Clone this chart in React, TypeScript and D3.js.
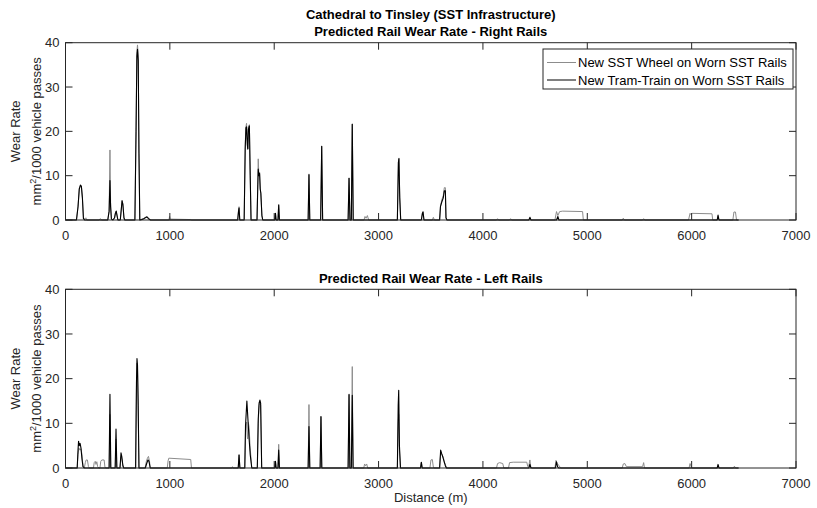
import React from "react";
import * as d3 from "d3";

type P = [number, number];

const mainTitle = "Cathedral to Tinsley (SST Infrastructure)";
const panelTitles = ["Predicted Rail Wear Rate - Right Rails", "Predicted Rail Wear Rate - Left Rails"];
const seriesNames = ["New SST Wheel on Worn SST Rails", "New Tram-Train on Worn SST Rails"];
const xTicks = [0, 1000, 2000, 3000, 4000, 5000, 6000, 7000];
const yTicks = [0, 10, 20, 30, 40];

const rightSST: P[] = [
  [0,0],[105,0],[120,3],[132,7],[143,8],[152,7.8],[162,5],[172,0.4],[185,0.2],[195,0.5],[205,0],
  [320,0],[335,0.3],[345,0],
  [405,0],[418,2],[426,15.8],[432,4],[440,0.3],[455,0],[470,0.5],[478,1.5],[486,2],[494,1],[502,0],[525,0],[533,2],[542,4.5],[550,3.5],[560,0.5],[568,0],
  [665,0],[676,20],[684,38],[690,39.5],[697,37],[704,15],[712,0],[745,0.3],[765,0.6],[780,0.8],[795,0.4],[815,0],
  [990,0],[998,0.8],[1003,0.2],[1200,0.1],[1210,0],
  [1650,0],[1658,2],[1663,3],[1670,0],
  [1712,0],[1722,17],[1729,21],[1735,21.8],[1742,18],[1747,16],[1753,21],[1762,21.5],[1770,10],[1778,0],
  [1835,0],[1842,8],[1847,13.8],[1853,10],[1860,10.8],[1866,7],[1872,6],[1882,1],[1890,0],
  [2005,0],[2012,1.5],[2018,0],[2036,0],[2043,3.6],[2050,0],
  [2325,0],[2333,10.4],[2341,0],
  [2445,0],[2455,16.7],[2464,0],
  [2708,0],[2717,9.5],[2726,0],[2739,0],[2748,21.7],[2757,0],
  [2860,0],[2870,0.8],[2880,0.4],[2893,1],[2905,0],
  [3180,0],[3190,13],[3195,14],[3203,5],[3212,0],
  [3410,0],[3420,1.5],[3426,1.9],[3435,0],[3515,0],[3525,0.6],[3535,0],
  [3585,0],[3593,3],[3605,4.5],[3620,5.5],[3630,7.3],[3640,7.3],[3646,0.5],[3655,0],
  [4130,0],[4140,0.3],[4150,0],[4255,0],[4265,0.3],[4275,0],[4440,0],[4451,0.4],[4460,0],
  [4690,0],[4705,1.9],[4718,1],[4735,1.9],[4765,2],[4955,1.9],[4962,0],
  [5335,0],[5345,0.4],[5355,0],[5530,0],[5540,0.3],[5550,0],
  [5970,0],[5985,1.5],[5995,1.2],[6005,1.5],[6195,1.4],[6202,0],[6245,0],[6253,0.8],[6262,0],
  [6395,0],[6405,1.8],[6420,1.8],[6430,0],[6450,0],
];

const rightTram: P[] = [
  [0,0],[105,0],[120,3],[132,7],[143,7.8],[152,7.6],[162,5],[172,0.3],[185,0],
  [405,0],[418,2],[426,8.9],[432,3],[440,0.2],[455,0],[470,0.5],[478,1.5],[486,2],[494,1],[502,0],[525,0],[533,2],[542,4.3],[550,3.5],[560,0.5],[568,0],
  [665,0],[676,20],[684,37],[690,38.5],[697,36],[704,15],[712,0],[745,0.2],[765,0.5],[780,0.7],[795,0.3],[815,0],
  [1650,0],[1658,2],[1663,2.7],[1670,0],
  [1712,0],[1722,16],[1729,20.8],[1735,21],[1742,17],[1747,16],[1753,20.5],[1762,21.2],[1770,10],[1778,0],
  [1835,0],[1842,7],[1847,11.5],[1853,10],[1860,10.5],[1866,7],[1872,6],[1882,1],[1890,0],
  [2005,0],[2012,1.5],[2018,0],[2036,0],[2043,3.3],[2050,0],
  [2325,0],[2333,10.2],[2341,0],
  [2445,0],[2455,16.6],[2464,0],
  [2708,0],[2717,9.4],[2726,0],[2739,0],[2748,21.6],[2757,0],
  [3180,0],[3190,13],[3195,13.8],[3203,5],[3212,0],
  [3410,0],[3420,1.5],[3426,1.8],[3435,0],
  [3585,0],[3593,3],[3605,4],[3620,5],[3630,6.6],[3640,6.6],[3646,0.5],[3655,0],
  [4440,0],[4451,0.6],[4460,0],
  [4705,0],[4718,0.8],[4728,0],
  [6245,0],[6253,1.1],[6262,0],[6450,0],
];

const leftSST: P[] = [
  [0,0],[112,0],[120,3],[128,4.5],[138,4],[148,4.3],[158,3],[168,0.3],[180,0],[190,1.2],[198,1.8],[210,1.8],[220,0.3],[228,0],
  [268,0],[275,1.2],[285,1.5],[292,0.8],[300,1.4],[308,0.3],[318,0],[330,0],[338,1.5],[348,1.8],[370,1.8],[378,0.2],[385,0],
  [418,0],[426,12],[434,0],[476,0],[484,6.5],[492,0],[522,0],[532,2.5],[540,2],[550,0.5],[558,0],
  [672,0],[680,18],[685,23.5],[690,22],[696,14],[704,0],
  [762,0],[775,1.5],[785,2.2],[795,2.6],[805,1.5],[812,0],
  [975,0],[983,1.6],[990,2.2],[1200,1.9],[1207,0],
  [1595,0],[1600,0.3],[1605,0],
  [1655,0],[1663,3],[1671,0],
  [1718,0],[1725,8],[1735,10.3],[1742,7],[1746,6.5],[1752,10.2],[1760,9],[1768,5],[1785,0],
  [1838,0],[1847,10],[1855,14],[1863,14.8],[1870,14],[1880,0],
  [2005,0],[2012,1.5],[2018,0],[2036,0],[2043,5.3],[2050,0],
  [2325,0],[2333,14.2],[2341,0],
  [2440,0],[2448,11.5],[2456,0],
  [2708,0],[2717,16.4],[2725,0],[2739,0],[2748,22.7],[2756,0],
  [2858,0],[2866,0.9],[2876,0.5],[2886,0.9],[2896,0],
  [3180,0],[3188,10],[3193,12],[3200,4],[3210,0],
  [3402,0],[3410,1.2],[3418,0],[3492,0],[3502,1.8],[3515,1.9],[3525,0.2],[3532,0],
  [3585,0],[3595,3.5],[3608,3],[3620,2.5],[3630,1.2],[3640,0.8],[3650,0],
  [4130,0],[4140,1],[4160,1.2],[4190,1],[4200,0],[4245,0],[4255,1.2],[4290,1.3],[4420,1.3],[4430,0.3],[4440,0.5],[4450,1.8],[4458,0.3],[4470,0],
  [4690,0],[4700,1.7],[4712,1],[4730,0.5],[4745,0],
  [5335,0],[5345,0.9],[5360,1],[5375,0.3],[5530,0.3],[5540,1.2],[5548,0],
  [5975,0],[5985,1],[5995,0.3],[6005,0],[6245,0],[6253,0.5],[6262,0],[6400,0],[6410,0.4],[6420,0],[6450,0],
];

const leftTram: P[] = [
  [0,0],[112,0],[120,4],[125,6],[132,5],[140,5.5],[148,4.5],[158,2],[168,0.3],[180,0],
  [418,0],[426,16.5],[434,0],[476,0],[484,8.7],[492,0],[522,0],[532,3.4],[540,2.5],[550,0.5],[558,0],
  [672,0],[680,19],[685,24.5],[690,23],[696,15],[704,0],
  [765,0],[778,1],[790,1.8],[800,1.5],[812,0],
  [1655,0],[1663,2.9],[1671,0],
  [1718,0],[1725,9.5],[1738,15],[1748,11],[1758,7],[1770,3],[1785,0],
  [1838,0],[1847,11],[1855,14.5],[1863,15.2],[1870,14.5],[1880,0],
  [2005,0],[2012,1.5],[2018,0],[2036,0],[2043,4],[2050,0],
  [2325,0],[2333,9.3],[2341,0],
  [2440,0],[2448,11.5],[2456,0],
  [2708,0],[2717,16.5],[2725,0],[2739,0],[2748,16.3],[2756,0],
  [3180,0],[3188,14],[3193,17.4],[3200,5],[3210,0],
  [3402,0],[3410,1.3],[3418,0],
  [3585,0],[3595,4],[3605,3.2],[3615,2.5],[3628,1.5],[3640,0.5],[3650,0],
  [4440,0],[4450,0.8],[4460,0],
  [4695,0],[4705,1.4],[4715,0.3],[4725,0],
  [6245,0],[6253,0.8],[6262,0],[6450,0],
];

const W = 817;
const H = 508;
const X0 = 65.5;
const X1 = 796;
const FONT = "'Liberation Sans', Arial, Helvetica, sans-serif";
const GRAY = "#8c8c8c";
const TICK = 7;

function Panel({ top, bottom, title, sst, tram, legend, xlabel }: { top: number; bottom: number; title: string; sst: P[]; tram: P[]; legend: boolean; xlabel: boolean }) {
  const x = d3.scaleLinear().domain([0, 7000]).range([X0, X1]);
  const y = d3.scaleLinear().domain([0, 40]).range([bottom, top]);
  const line = d3.line<P>().x((d) => x(d[0])).y((d) => y(d[1]));
  const midY = (top + bottom) / 2;
  return (
    <g>
      <rect x={X0} y={top} width={X1 - X0} height={bottom - top} fill="#fff" />
      <path d={line(sst) || ""} fill="none" stroke={GRAY} strokeWidth={1} strokeLinejoin="round" />
      <path d={line(tram) || ""} fill="none" stroke="#000" strokeWidth={1.1} strokeLinejoin="round" />
      <rect x={X0} y={top} width={X1 - X0} height={bottom - top} fill="none" stroke="#262626" strokeWidth={1} />
      {xTicks.map((t) => (
        <g key={"x" + t}>
          <line x1={x(t)} x2={x(t)} y1={bottom} y2={bottom - TICK} stroke="#262626" />
          <line x1={x(t)} x2={x(t)} y1={top} y2={top + TICK} stroke="#262626" />
          <text x={x(t)} y={bottom + 20} textAnchor="middle" fontSize={13} fill="#262626">{t}</text>
        </g>
      ))}
      {yTicks.map((t) => (
        <g key={"y" + t}>
          <line x1={X0} x2={X0 + TICK} y1={y(t)} y2={y(t)} stroke="#262626" />
          <line x1={X1} x2={X1 - TICK} y1={y(t)} y2={y(t)} stroke="#262626" />
          <text x={59.5} y={y(t) + 4.6} textAnchor="end" fontSize={13} fill="#262626">{t}</text>
        </g>
      ))}
      <text transform={`translate(20,${midY}) rotate(-90)`} textAnchor="middle" fontSize={13} fill="#262626">Wear Rate</text>
      <text transform={`translate(40.5,${midY}) rotate(-90)`} textAnchor="middle" fontSize={13} fill="#262626">
        mm<tspan fontSize={9} dy={-5}>2</tspan><tspan dy={5}>/1000 vehicle passes</tspan>
      </text>
      <text x={(X0 + X1) / 2} y={top - 6.5} textAnchor="middle" fontSize={13} fontWeight="bold" fill="#000">{title}</text>
      {xlabel && (
        <text x={(X0 + X1) / 2} y={501.5} textAnchor="middle" fontSize={13} fill="#262626">Distance (m)</text>
      )}
      {legend && (
        <g>
          <rect x={543} y={49} width={250} height={40} fill="#fff" stroke="#262626" strokeWidth={1} />
          {seriesNames.map((n, i) => (
            <g key={n}>
              <line x1={547} x2={576} y1={62.5 + i * 17.5} y2={62.5 + i * 17.5} stroke={i === 0 ? GRAY : "#000"} strokeWidth={1} />
              <text x={578} y={62.5 + i * 17.5 + 4.6} fontSize={13} fill="#000">{n}</text>
            </g>
          ))}
        </g>
      )}
    </g>
  );
}

export default function App() {
  return (
    <svg width={W} height={H} style={{ position: "absolute", left: 0, top: 0, fontFamily: FONT, background: "#fff" }}>
      <rect width={W} height={H} fill="#fff" />
      <text x={(X0 + X1) / 2} y={19} textAnchor="middle" fontSize={13} fontWeight="bold" fill="#000">{mainTitle}</text>
      <Panel top={42.7} bottom={220} title={panelTitles[0]} sst={rightSST} tram={rightTram} legend={true} xlabel={false} />
      <Panel top={289.3} bottom={468} title={panelTitles[1]} sst={leftSST} tram={leftTram} legend={false} xlabel={true} />
    </svg>
  );
}
